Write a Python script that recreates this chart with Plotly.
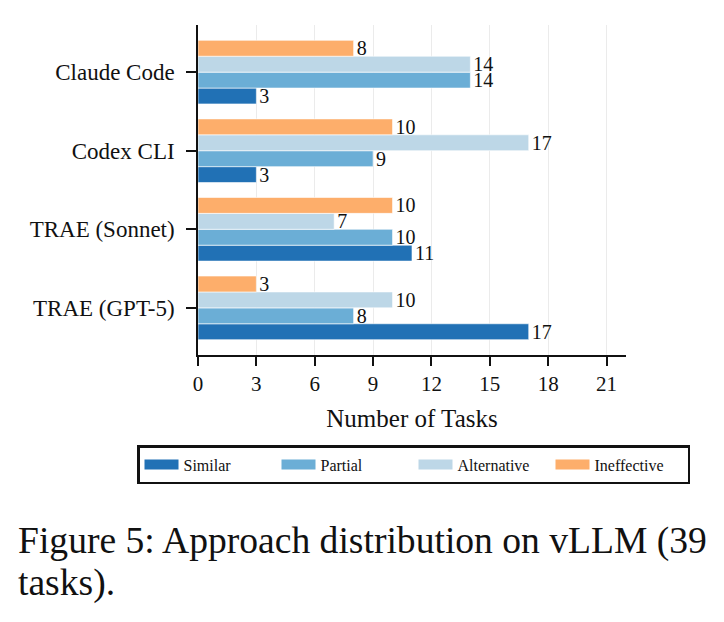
import plotly.graph_objects as go

categories = ["TRAE (GPT-5)", "TRAE (Sonnet)", "Codex CLI", "Claude Code"]
series_names = ["Similar", "Partial", "Alternative", "Ineffective"]
similar = [17, 11, 3, 3]
partial = [8, 10, 9, 14]
alternative = [10, 7, 17, 14]
ineffective = [3, 10, 10, 8]
x_ticks = [0, 3, 6, 9, 12, 15, 18, 21]
colors = ["#2171b5", "#6baed6", "#bdd7e7", "#fdae6b"]
caption_lines = ["Figure 5: Approach distribution on vLLM (39", "tasks)."]

W, H = 724, 622
L, R, T, B = 198, 626, 25, 355
SERIF = "Liberation Serif, Times New Roman, serif"

fig = go.Figure()
for name, vals, col in zip(series_names, [similar, partial, alternative, ineffective], colors):
    fig.add_trace(go.Bar(
        y=categories, x=vals, orientation="h", name=name,
        marker=dict(color=col, line=dict(color="white", width=0.6)),
        text=[str(v) for v in vals], textposition="outside",
        textfont=dict(family=SERIF, size=20, color="#111"),
        constraintext="none", cliponaxis=False, showlegend=False,
    ))
    fig.add_trace(go.Scatter(
        x=[None], y=[None], mode="lines", name=name,
        line=dict(color=col, width=11), showlegend=True,
    ))

pw, ph = R - L, B - T
def px_x(p):
    return (p - L) / pw
def px_y(p):
    return (B - p) / ph

fig.update_layout(
    width=W, height=H,
    margin=dict(l=L, r=W - R, t=T, b=H - B),
    paper_bgcolor="white", plot_bgcolor="white",
    barmode="group", bargap=0.19, bargroupgap=0,
    font=dict(family=SERIF, color="#111"),
    xaxis=dict(
        range=[0, 22], tickvals=x_ticks, showgrid=True, gridcolor="#ebebeb", gridwidth=1,
        showline=True, linecolor="#111", linewidth=1.5, ticks="outside", ticklen=9,
        tickwidth=1.5, tickcolor="#111", tickfont=dict(size=21, family=SERIF),
        title=dict(text="Number of Tasks", font=dict(size=25, family=SERIF), standoff=15),
        zeroline=False,
    ),
    yaxis=dict(
        categoryorder="array", categoryarray=categories, range=[-0.6, 3.6],
        showline=True, linecolor="#111", linewidth=1.5, ticks="outside", ticklen=10,
        tickwidth=1.5, tickcolor="#111", tickfont=dict(size=23, family=SERIF),
        showgrid=False, ticklabelstandoff=7,
    ),
    legend=dict(
        orientation="h", x=px_x(137), y=px_y(445), xanchor="left", yanchor="top",
        bordercolor="#111", borderwidth=2.5, bgcolor="white",
        font=dict(size=16, family=SERIF), entrywidth=88, itemwidth=34,
        traceorder="normal",
    ),
)

fig.add_annotation(
    text=caption_lines[0], xref="paper", yref="paper", x=px_x(16), y=px_y(555),
    xanchor="left", yanchor="bottom", showarrow=False, yshift=-9,
    font=dict(size=37.6, family=SERIF, color="#111"),
)
fig.add_annotation(
    text=caption_lines[1], xref="paper", yref="paper", x=px_x(16), y=px_y(597),
    xanchor="left", yanchor="bottom", showarrow=False, yshift=-9,
    font=dict(size=37.6, family=SERIF, color="#111"),
)

fig.write_html("out.html")
